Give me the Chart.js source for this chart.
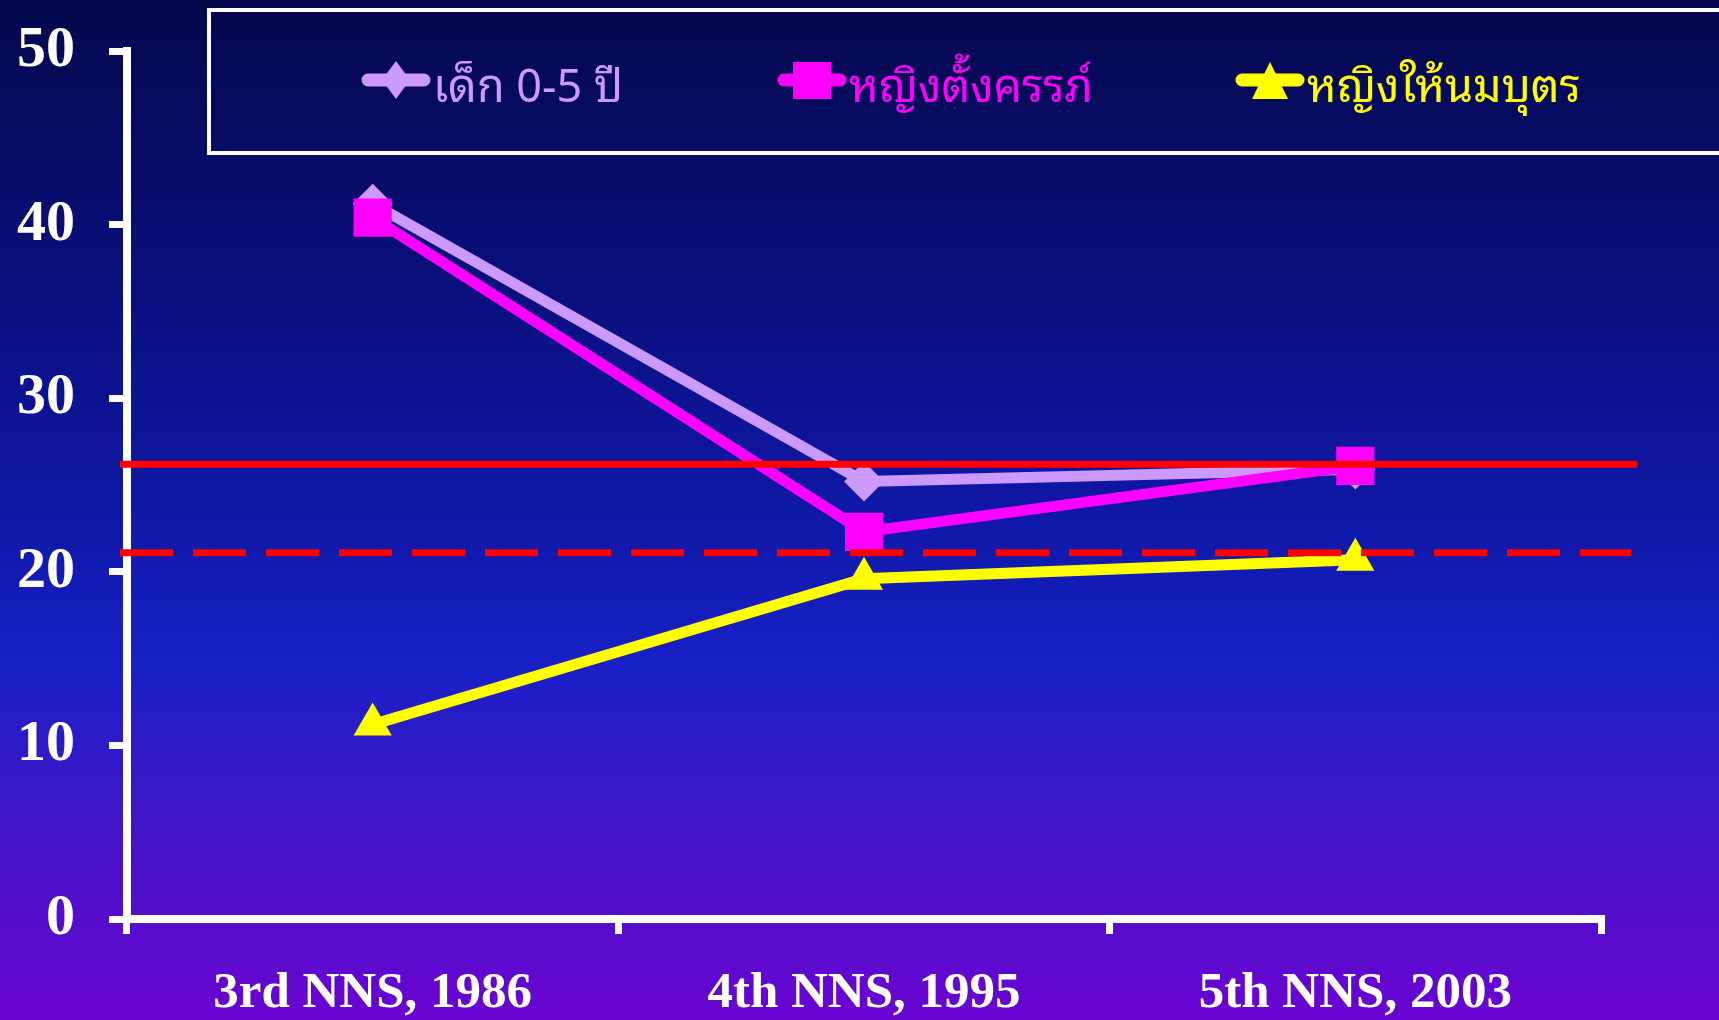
<!DOCTYPE html>
<html>
<head>
<meta charset="utf-8">
<script src="https://cdn.jsdelivr.net/npm/chart.js@4/dist/chart.umd.min.js"></script>
<style>
  html, body { margin: 0; padding: 0; background: #0a0f70; }
  #wrap { width: 1719px; height: 1020px; position: relative; }
</style>
</head>
<body>
<div id="wrap"><canvas id="grafico"></canvas></div>
<script>
// dados
const categorias = ['3rd NNS, 1986', '4th NNS, 1995', '5th NNS, 2003'];
const nomesSeries = ['เด็ก 0-5 ปี', 'หญิงตั้งครรภ์', 'หญิงให้นมบุตร'];
const criancas = [41.2, 25.2, 25.9];
const gestantes = [40.4, 22.3, 26.1];
const lactantes = [11.2, 19.6, 20.7];
const ticksY = [0, 10, 20, 30, 40, 50];
const linhaContinua = 26.2;   // linha vermelha sólida
const linhaTracejada = 21.1;  // linha vermelha tracejada

const cores = ['#CC99FF', '#FF00FF', '#FFFF00'];
const simbolos = ['rectRot', 'rect', 'triangle'];

// fundo em degradê
const fundo = {
    id: 'fundo',
    beforeDraw(chart) {
        const ctx = chart.ctx;
        const g = ctx.createLinearGradient(0, 0, 0, chart.height);
        g.addColorStop(0, '#05084C');
        g.addColorStop(0.3, '#0A1080');
        g.addColorStop(0.5, '#0F17A6');
        g.addColorStop(0.65, '#1820C6');
        g.addColorStop(0.82, '#4414C8');
        g.addColorStop(1, '#6A04D2');
        ctx.save();
        ctx.fillStyle = g;
        ctx.fillRect(0, 0, chart.width, chart.height);
        ctx.restore();
    }
};

// linhas de referência vermelhas
const referencias = {
    id: 'referencias',
    afterDatasetsDraw(chart) {
        const ctx = chart.ctx;
        const y = chart.scales.y;
        const area = chart.chartArea;
        const x0 = area.left - 7;
        const x1 = area.right + 36;
        ctx.save();
        ctx.strokeStyle = '#FF0000';
        ctx.lineWidth = 7;
        ctx.beginPath();
        ctx.moveTo(x0, y.getPixelForValue(linhaContinua));
        ctx.lineTo(x1, y.getPixelForValue(linhaContinua));
        ctx.stroke();
        ctx.setLineDash([53, 20]);
        ctx.beginPath();
        ctx.moveTo(x0, y.getPixelForValue(linhaTracejada));
        ctx.lineTo(x1 - 6, y.getPixelForValue(linhaTracejada));
        ctx.stroke();
        ctx.restore();
    }
};

// legenda dentro da caixa branca
const legenda = {
    id: 'legenda',
    afterDraw(chart) {
        const ctx = chart.ctx;
        const inicios = [362, 778, 1236];
        const yc = 80;
        ctx.save();
        ctx.strokeStyle = '#FFFFFF';
        ctx.lineWidth = 4;
        ctx.strokeRect(209, 10, chart.width + 20, 143);

        nomesSeries.forEach((nome, i) => {
            const x = inicios[i];
            const cx = x + 34;
            ctx.strokeStyle = cores[i];
            ctx.fillStyle = cores[i];
            ctx.lineWidth = 13;
            ctx.lineCap = 'round';
            ctx.beginPath();
            ctx.moveTo(x + 6, yc);
            ctx.lineTo(x + 62, yc);
            ctx.stroke();
            ctx.beginPath();
            if (simbolos[i] === 'rectRot') {
                ctx.moveTo(cx - 14, yc);
                ctx.lineTo(cx, yc - 19);
                ctx.lineTo(cx + 14, yc);
                ctx.lineTo(cx, yc + 19);
            } else if (simbolos[i] === 'rect') {
                ctx.rect(cx - 19, yc - 18, 38, 37);
            } else {
                ctx.moveTo(cx, yc - 18);
                ctx.lineTo(cx + 18, yc + 19);
                ctx.lineTo(cx - 18, yc + 19);
            }
            ctx.closePath();
            ctx.fill();
            ctx.font = '45px "Noto Sans Thai Looped", "Noto Serif Thai", "Noto Sans Thai", "Noto Sans", sans-serif';
            ctx.textBaseline = 'alphabetic';
            ctx.fillText(nome, x + 71, 102);
        });
        ctx.restore();
    }
};

const ctx = document.getElementById('grafico').getContext('2d');
const grafico = new Chart(ctx, {
    type: 'line',
    data: {
        labels: categorias,
        datasets: [criancas, gestantes, lactantes].map((dados, i) => ({
            label: nomesSeries[i],
            data: dados,
            borderColor: cores[i],
            backgroundColor: cores[i],
            borderWidth: 11,
            pointStyle: simbolos[i],
            pointRadius: [20, 27, 22][i],
            pointBorderWidth: 0,
            pointHoverRadius: [20, 27, 22][i],
            tension: 0,
            fill: false,
            order: 3 - i
        }))
    },
    options: {
        responsive: true,
        maintainAspectRatio: false,
        animation: false,
        events: [],
        layout: { padding: { top: 51, right: 118, left: 0, bottom: 0 } },
        plugins: {
            legend: { display: false },
            tooltip: { enabled: false }
        },
        scales: {
            x: {
                type: 'category',
                offset: true,
                afterFit: (s) => { s.height = 101; },
                border: { display: true, color: '#FFFFFF', width: 8 },
                grid: { offset: true, drawOnChartArea: false, drawTicks: true, tickLength: 15, color: '#FFFFFF', lineWidth: 7 },
                ticks: {
                    color: '#FFFFFF',
                    padding: 29,
                    maxRotation: 0,
                    font: { family: '"Liberation Serif", "Times New Roman", serif', weight: 'bold', size: 51 }
                }
            },
            y: {
                min: 0,
                max: 50,
                afterFit: (s) => { s.width = 127; s.paddingTop = 0; s.paddingBottom = 0; },
                afterBuildTicks: (s) => { s.ticks = ticksY.map(v => ({ value: v })); },
                border: { display: true, color: '#FFFFFF', width: 8 },
                grid: { drawOnChartArea: false, drawTicks: true, tickLength: 18, color: '#FFFFFF', lineWidth: 7 },
                ticks: {
                    color: '#FFFFFF',
                    padding: 34,
                    font: { family: '"Liberation Serif", "Times New Roman", serif', weight: 'bold', size: 58 }
                }
            }
        }
    },
    plugins: [fundo, referencias, legenda]
});
</script>
</body>
</html>
